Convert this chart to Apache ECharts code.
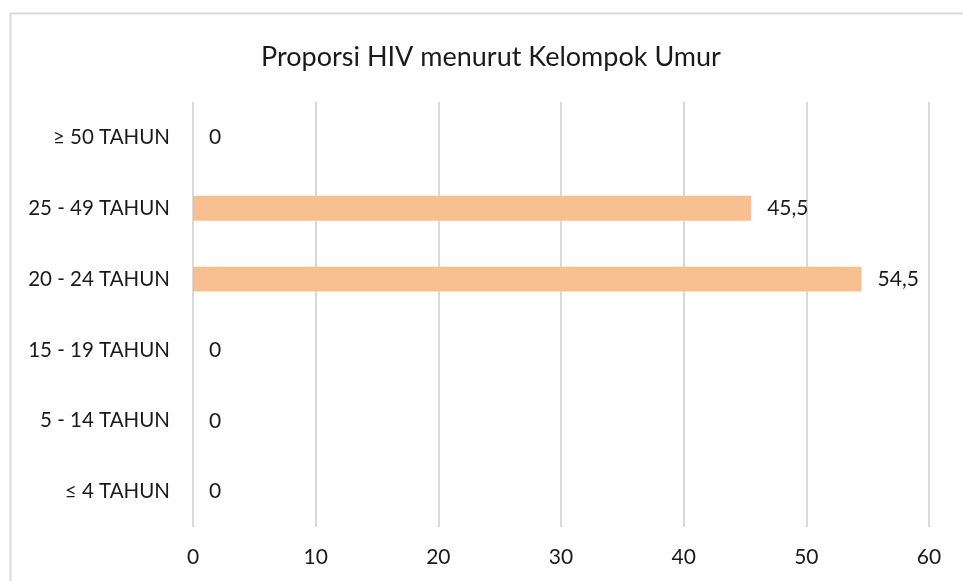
<!DOCTYPE html>
<html>
<head>
<meta charset="utf-8">
<script src="https://cdn.jsdelivr.net/npm/echarts@6/dist/echarts.min.js"></script>
<style>
  html, body { margin: 0; padding: 0; background: #fff; }
  #chart { width: 963px; height: 581px; }
</style>
</head>
<body>
<div id="chart"></div>
<script>
// data
const categories = ['≤ 4 TAHUN', '5 - 14 TAHUN', '15 - 19 TAHUN', '20 - 24 TAHUN', '25 - 49 TAHUN', '≥ 50 TAHUN'];
const values = [0, 0, 0, 54.5, 45.5, 0];
const titleText = 'Proporsi HIV menurut Kelompok Umur';

const font = 'Lato, "Open Sans", "DejaVu Sans", sans-serif';

const chart = echarts.init(document.getElementById('chart'));
chart.setOption({
    animation: false,
    backgroundColor: '#fff',
    title: {
        text: titleText,
        left: 486,
        textAlign: 'center',
        top: 39,
        textStyle: { color: '#1a1a1a', fontSize: 27, fontWeight: 'normal', fontFamily: font }
    },
    graphic: [{
        type: 'polyline',
        shape: { points: [[10.5, 581], [10.5, 13.5], [963, 13.5]] },
        style: { stroke: '#d9d9d9', lineWidth: 2, fill: null },
        silent: true
    }],
    grid: { left: 193, right: 34, top: 102, bottom: 54 },
    xAxis: {
        type: 'value',
        min: 0,
        max: 60,
        interval: 10,
        axisLine: { show: false },
        axisTick: { show: false },
        axisLabel: { color: '#1a1a1a', fontSize: 21, fontFamily: font, margin: 20 },
        splitLine: { lineStyle: { color: '#d9d9d9', width: 2 } }
    },
    yAxis: {
        type: 'category',
        data: categories,
        axisLine: { show: false },
        axisTick: { show: false },
        axisLabel: { color: '#1a1a1a', fontSize: 20.5, fontFamily: font, margin: 23 }
    },
    series: [{
        type: 'bar',
        data: values,
        barWidth: '35%',
        itemStyle: { color: '#f8c090' },
        label: {
            show: true,
            position: 'right',
            distance: 16,
            color: '#1a1a1a',
            fontSize: 21,
            fontFamily: font,
            formatter: p => String(p.value).replace('.', ',')
        }
    }]
});
</script>
</body>
</html>
